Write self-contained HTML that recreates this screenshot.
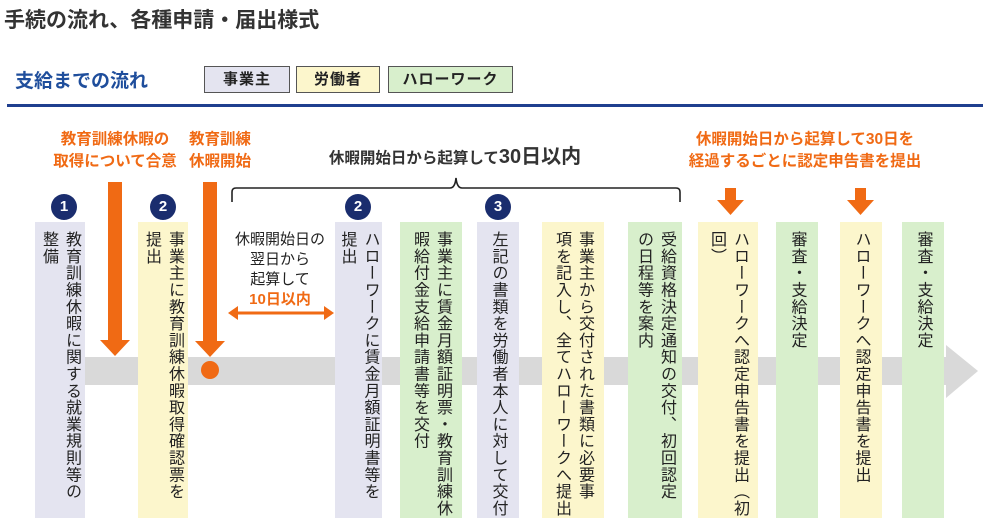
<!DOCTYPE html>
<html><head><meta charset="utf-8"><style>
body{margin:0;width:986px;height:524px;background:#fff;position:relative;overflow:hidden;font-family:"Liberation Sans","Noto Sans CJK JP",sans-serif;color:#222}
.a{position:absolute}
.col{position:absolute;top:222px;height:296px;padding-top:9px;box-sizing:border-box;text-align:center}
.col span{display:inline-block;writing-mode:vertical-rl;font-size:16px;line-height:23px;letter-spacing:0.8px;white-space:nowrap;text-align:start}
.lav{background:#e4e4f0}.yel{background:#fcf6cc}.grn{background:#d8efcc}
.num{position:absolute;top:194px;width:26px;height:26px;border-radius:50%;background:#1a2d6e;color:#fff;font-weight:bold;font-size:15px;text-align:center;line-height:26px}
.or{color:#f06a14;font-weight:bold;font-size:15.5px;line-height:22px;text-align:center;position:absolute}
.leg{position:absolute;top:66px;height:27px;border:1px solid #555;box-sizing:border-box;font-size:15px;font-weight:bold;text-align:center;line-height:25px;letter-spacing:1px}
</style></head><body>
<div class="a" style="left:4px;top:4px;font-size:21px;font-weight:bold;color:#333">手続の流れ、各種申請・届出様式</div>
<div class="a" style="left:15px;top:66px;font-size:19px;color:#1f4e9c;font-weight:bold">支給までの流れ</div>
<div class="leg lav" style="left:204px;width:86px">事業主</div>
<div class="leg yel" style="left:296px;width:84px">労働者</div>
<div class="leg grn" style="left:388px;width:125px">ハローワーク</div>
<div class="a" style="left:7px;top:104px;width:976px;height:3px;background:#1f3f8f"></div>

<div class="a" style="left:85px;top:357px;width:862px;height:28px;background:#d9d9d9"></div>
<svg class="a" style="left:940px;top:340px" width="40" height="62"><polygon points="6,5 38,31 6,58" fill="#d9d9d9"/></svg>

<div class="col lav" style="left:35px;width:50px"><span>教育訓練休暇に関する就業規則等の<br>整備</span></div>
<div class="col yel" style="left:138px;width:50px"><span>事業主に教育訓練休暇取得確認票を<br>提出</span></div>
<div class="col lav" style="left:335px;width:47px"><span>ハローワークに賃金月額証明書等を<br>提出</span></div>
<div class="col grn" style="left:400px;width:62px"><span>事業主に賃金月額証明票・教育訓練休<br>暇給付金支給申請書等を交付</span></div>
<div class="col lav" style="left:477px;width:42px"><span>左記の書類を労働者本人に対して交付</span></div>
<div class="col yel" style="left:542px;width:62px"><span>事業主から交付された書類に必要事<br>項を記入し、全てハローワークへ提出</span></div>
<div class="col grn" style="left:628px;width:54px"><span>受給資格決定通知の交付、初回認定<br>の日程等を案内</span></div>
<div class="col yel" style="left:698px;width:60px"><span>ハローワークへ認定申告書を提出（初<br>回）</span></div>
<div class="col grn" style="left:776px;width:42px"><span>審査・支給決定</span></div>
<div class="col yel" style="left:840px;width:42px"><span>ハローワークへ認定申告書を提出</span></div>
<div class="col grn" style="left:902px;width:42px"><span>審査・支給決定</span></div>

<div class="num" style="left:51px">1</div>
<div class="num" style="left:150px">2</div>
<div class="num" style="left:345px">2</div>
<div class="num" style="left:485px">3</div>

<div class="or" style="left:30px;top:129px;width:170px">教育訓練休暇の<br>取得について合意</div>
<div class="or" style="left:180px;top:129px;width:80px">教育訓練<br>休暇開始</div>
<div class="or" style="left:660px;top:129px;width:290px">休暇開始日から起算して30日を<br>経過するごとに認定申告書を提出</div>

<svg class="a" style="left:0;top:0" width="986" height="524">
<rect x="108" y="182" width="14" height="158" fill="#f06a14"/>
<polygon points="100,340 130,340 115,356" fill="#f06a14"/>
<rect x="203" y="182" width="14" height="160" fill="#f06a14"/>
<polygon points="195,341 225,341 210,357" fill="#f06a14"/>
<circle cx="210" cy="370" r="9" fill="#f06a14"/>
<rect x="725" y="188" width="11" height="12" fill="#f06a14"/>
<polygon points="717,200 744,200 730.5,215" fill="#f06a14"/>
<rect x="855" y="188" width="11" height="12" fill="#f06a14"/>
<polygon points="847,200 874,200 860.5,215" fill="#f06a14"/>
<path d="M232,202 V192 Q232,188 236,188 H450 Q455,188 456,178 Q457,188 462,188 H676 Q680,188 680,192 V202" fill="none" stroke="#222" stroke-width="1.6"/>
<line x1="236" y1="313" x2="326" y2="313" stroke="#f06a14" stroke-width="3"/>
<polygon points="228,313 238,306 238,320" fill="#f06a14"/>
<polygon points="334,313 324,306 324,320" fill="#f06a14"/>
</svg>
<div class="a" style="left:300px;top:140px;width:310px;text-align:center;font-size:15.5px;font-weight:bold;color:#333">休暇開始日から起算して<span style="font-size:20px">30日以内</span></div>
<div class="a" style="left:228px;top:230px;width:104px;text-align:center;font-size:15px;line-height:20px">休暇開始日の<br>翌日から<br>起算して<br><span style="color:#f06a14;font-weight:bold">10日以内</span></div>
</body></html>
